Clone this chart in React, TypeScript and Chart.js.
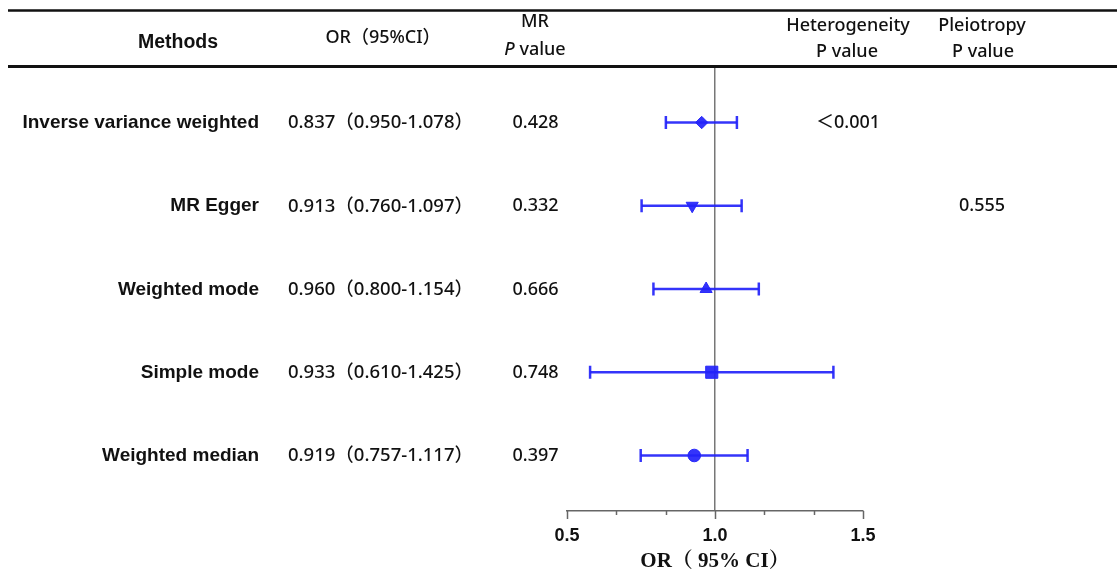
import React, { useEffect, useRef } from 'react';
import { Chart, registerables } from 'chart.js';

Chart.register(...registerables);

// ---------- data ----------
const METHODS = ['Inverse variance weighted', 'MR Egger', 'Weighted mode', 'Simple mode', 'Weighted median'];
const OR_TEXT = [
  '0.837（0.950-1.078）',
  '0.913（0.760-1.097）',
  '0.960（0.800-1.154）',
  '0.933（0.610-1.425）',
  '0.919（0.757-1.117）',
];
const MR_P = ['0.428', '0.332', '0.666', '0.748', '0.397'];
const HET_P = ['＜0.001', '', '', '', ''];
const PLEIO_P = ['', '0.555', '', '', ''];
const EST = [0.955, 0.923, 0.97, 0.989, 0.93];
const LOWER = [0.834, 0.752, 0.792, 0.578, 0.749];
const UPPER = [1.074, 1.09, 1.148, 1.4, 1.11];
const ROW_Y = [4, 3, 2, 1, 0];
const MARKERS = ['rectRot', 'triangle', 'triangle', 'rect', 'circle'];
const MARKER_ROT = [0, 180, 0, 0, 0];
const MARKER_R = [6.2, 7, 7, 8.6, 6.3];
const X_TICKS = [0.5, 0.6667, 0.8333, 1.0, 1.1667, 1.3333, 1.5];
const X_TICK_LABELS = ['0.5', '', '', '1.0', '', '', '1.5'];
const X_TITLE = 'OR（ 95% CI）';

const BLUE = 'rgba(35,35,250,0.92)';
const SANS = '"Noto Sans", "Noto Sans CJK SC", sans-serif';
const ARIAL = '"Liberation Sans", Arial, sans-serif';

const tablePlugin = {
  id: 'forestTable',
  afterDraw(chart: any) {
    const ctx = chart.ctx as CanvasRenderingContext2D;
    const xs = chart.scales.x;
    const ys = chart.scales.y;
    const W = chart.width;
    ctx.save();

    // header rules
    ctx.strokeStyle = '#111';
    ctx.lineWidth = 2.5;
    ctx.beginPath();
    ctx.moveTo(8, 10.5);
    ctx.lineTo(W, 10.5);
    ctx.stroke();
    ctx.lineWidth = 3;
    ctx.beginPath();
    ctx.moveTo(8, 66.5);
    ctx.lineTo(W, 66.5);
    ctx.stroke();

    // tick marks below axis
    ctx.strokeStyle = '#666';
    ctx.lineWidth = 1.5;
    const base = xs.top;
    X_TICKS.forEach((v, i) => {
      const px = Math.round(xs.getPixelForValue(v)) + 0.5;
      const len = X_TICK_LABELS[i] ? 8 : 4;
      ctx.beginPath();
      ctx.moveTo(px, base);
      ctx.lineTo(px, base + len);
      ctx.stroke();
    });

    ctx.fillStyle = '#111';
    ctx.textBaseline = 'middle';

    // header texts
    ctx.textAlign = 'center';
    ctx.font = `bold 19.5px ${ARIAL}`;
    ctx.fillText('Methods', 178, 43);
    ctx.font = `500 18px ${SANS}`;
    ctx.fillText('OR（95%CI）', 383, 38);
    ctx.font = `500 18px ${SANS}`;
    ctx.fillText('MR', 535, 21.5);
    // P value with italic P
    const drawPValue = (cx: number, cy: number, italic: boolean) => {
      const f1 = `${italic ? 'italic ' : ''}500 18px ${SANS}`;
      const f2 = `500 18px ${SANS}`;
      ctx.font = f1;
      const w1 = ctx.measureText('P').width;
      ctx.font = f2;
      const w2 = ctx.measureText(' value').width;
      const x0 = cx - (w1 + w2) / 2;
      ctx.textAlign = 'left';
      ctx.font = f1;
      ctx.fillText('P', x0, cy);
      ctx.font = f2;
      ctx.fillText(' value', x0 + w1, cy);
      ctx.textAlign = 'center';
    };
    drawPValue(535, 50, true);
    ctx.font = `500 18px ${SANS}`;
    ctx.fillText('Heterogeneity', 848, 26);
    drawPValue(847, 52, false);
    ctx.font = `500 18px ${SANS}`;
    ctx.fillText('Pleiotropy', 982, 26);
    drawPValue(983, 52, false);

    // rows
    METHODS.forEach((m, i) => {
      const py = ys.getPixelForValue(ROW_Y[i]) + 0.5;
      ctx.textAlign = 'right';
      ctx.font = `bold 19px ${ARIAL}`;
      ctx.fillText(m, 259, py);
      ctx.textAlign = 'left';
      ctx.font = `500 18.5px ${SANS}`;
      ctx.fillText(OR_TEXT[i], 288, py);
      ctx.font = `500 18px ${SANS}`;
      ctx.textAlign = 'center';
      ctx.fillText(MR_P[i], 535.5, py);
      if (HET_P[i]) ctx.fillText(HET_P[i], 848, py);
      if (PLEIO_P[i]) ctx.fillText(PLEIO_P[i], 982, py);
    });

    ctx.restore();
  },
};

export default function App() {
  const ref = useRef<HTMLCanvasElement | null>(null);

  useEffect(() => {
    if (!ref.current) return;
    const errorSets = METHODS.map((m, i) => ({
      label: m + ' CI',
      data: [
        { x: LOWER[i], y: ROW_Y[i] },
        { x: UPPER[i], y: ROW_Y[i] },
      ],
      showLine: true,
      borderColor: BLUE,
      backgroundColor: BLUE,
      borderWidth: 2.5,
      pointStyle: 'line',
      pointRotation: 90,
      pointRadius: 6.5,
      pointBorderWidth: 2.5,
      pointBorderColor: BLUE,
    }));
    const pointSet = {
      label: 'OR',
      data: METHODS.map((m, i) => ({ x: EST[i], y: ROW_Y[i] })),
      showLine: false,
      pointStyle: MARKERS,
      pointRotation: MARKER_ROT,
      pointRadius: MARKER_R,
      backgroundColor: BLUE,
      borderColor: BLUE,
      borderWidth: 1,
    };

    const chart = new Chart(ref.current, {
      type: 'scatter',
      data: { datasets: [...errorSets, pointSet] as any },
      options: {
        responsive: false,
        animation: false,
        layout: { padding: { left: 567, right: 254, top: 67, bottom: 0 } },
        plugins: { legend: { display: false }, tooltip: { enabled: false } },
        scales: {
          x: {
            type: 'linear',
            min: 0.5,
            max: 1.5,
            afterBuildTicks: (scale: any) => {
              scale.ticks = X_TICKS.map((v) => ({ value: v }));
            },
            afterFit: (scale: any) => {
              scale.height = 64;
            },
            ticks: {
              autoSkip: false,
              maxRotation: 0,
              padding: 14,
              color: '#111',
              font: { family: ARIAL, size: 18, weight: 'bold' },
              callback: (_v: any, idx: number) => X_TICK_LABELS[idx],
            },
            grid: {
              drawTicks: false,
              lineWidth: 1.5,
              color: (c: any) =>
                c.tick && Math.abs(c.tick.value - 1) < 1e-6 ? '#777' : 'rgba(0,0,0,0)',
            },
            border: { display: true, color: '#666', width: 1.5 },
            title: {
              display: true,
              text: X_TITLE,
              color: '#111',
              font: { family: '"Liberation Serif", "Noto Serif CJK SC", "Noto Sans CJK SC", serif', size: 21, weight: 'bold' },
              padding: { top: 0, bottom: 1 },
            },
          },
          y: {
            type: 'linear',
            min: -0.667,
            max: 4.667,
            display: false,
          },
        },
      },
      plugins: [tablePlugin],
    } as any);
    return () => chart.destroy();
  }, []);

  return (
    <div style={{ position: 'absolute', left: 0, top: 0, width: 1117, height: 575, background: '#fff' }}>
      <canvas ref={ref} width={1117} height={575} style={{ width: 1117, height: 575, display: 'block' }} />
    </div>
  );
}
